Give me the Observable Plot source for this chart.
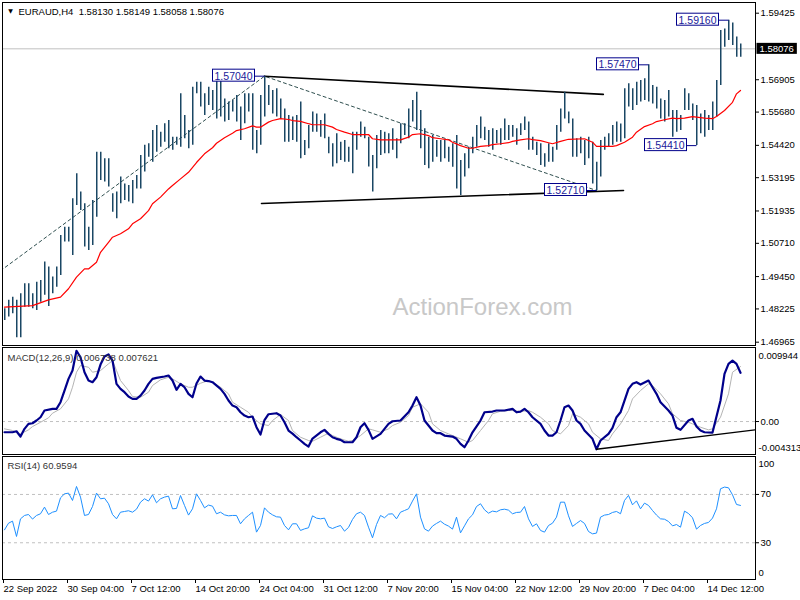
<!DOCTYPE html>
<html><head><meta charset="utf-8">
<script src="https://cdn.jsdelivr.net/npm/d3@7"></script>
<script src="https://cdn.jsdelivr.net/npm/@observablehq/plot@0.6"></script>
<style>
body{margin:0;background:#fff;}
#chart{position:relative;width:800px;height:600px;overflow:hidden;background:#fff;}
</style></head><body><div id="chart"></div>
<script>
// ---- price bars (8h aggregation of H4 bars) ----
const highs = [1.4823,1.4855,1.4867,1.4855,1.4880,1.4918,1.4918,1.4880,1.4924,1.4930,
1.5000,1.4981,1.4943,1.4981,1.5101,1.5132,1.5132,1.5240,1.5334,1.5265,
1.5221,1.5132,1.5233,1.5416,1.5416,1.5391,1.5391,1.5259,1.5265,1.5322,
1.5296,1.5290,1.5309,1.5328,1.5404,1.5442,1.5448,1.5498,1.5517,1.5492,
1.5524,1.5536,1.5473,1.5473,1.5637,1.5555,1.5498,1.5662,1.5681,1.5681,
1.5637,1.5662,1.5650,1.5700,1.5688,1.5618,1.5606,1.5612,1.5631,1.5587,
1.5637,1.5637,1.5637,1.5498,1.5631,1.5704,1.5669,1.5650,1.5656,1.5618,
1.5580,1.5555,1.5549,1.5555,1.5606,1.5460,1.5517,1.5568,1.5561,1.5536,
1.5561,1.5473,1.5448,1.5486,1.5454,1.5460,1.5435,1.5492,1.5492,1.5530,
1.5511,1.5473,1.5404,1.5479,1.5498,1.5492,1.5486,1.5505,1.5467,1.5524,
1.5524,1.5580,1.5612,1.5643,1.5574,1.5505,1.5473,1.5479,1.5460,1.5460,
1.5460,1.5435,1.5448,1.5479,1.5385,1.5410,1.5435,1.5473,1.5517,1.5549,
1.5511,1.5498,1.5505,1.5498,1.5505,1.5542,1.5517,1.5517,1.5505,1.5524,
1.5549,1.5530,1.5473,1.5454,1.5448,1.5410,1.5448,1.5435,1.5517,1.5580,
1.5643,1.5568,1.5542,1.5467,1.5473,1.5460,1.5473,1.5454,1.5378,1.5460,
1.5473,1.5486,1.5517,1.5530,1.5523,1.5656,1.5675,1.5656,1.5681,1.5688,
1.5694,1.5747,1.5669,1.5662,1.5618,1.5612,1.5650,1.5574,1.5574,1.5555,
1.5656,1.5637,1.5599,1.5593,1.5561,1.5574,1.5555,1.5606,1.5688,1.5877,
1.5883,1.5916,1.5905,1.5852,1.5826];
const lows = [1.4779,1.4792,1.4804,1.4713,1.4713,1.4829,1.4829,1.4823,1.4817,1.4848,
1.4874,1.4832,1.4880,1.4905,1.4949,1.5076,1.5076,1.5025,1.5214,1.5195,
1.5057,1.5044,1.5063,1.5170,1.5309,1.5303,1.5284,1.5189,1.5164,1.5221,
1.5233,1.5227,1.5221,1.5277,1.5277,1.5341,1.5397,1.5378,1.5416,1.5435,
1.5454,1.5429,1.5423,1.5442,1.5435,1.5467,1.5429,1.5442,1.5637,1.5587,
1.5555,1.5593,1.5574,1.5542,1.5549,1.5530,1.5536,1.5568,1.5530,1.5460,
1.5524,1.5568,1.5423,1.5410,1.5442,1.5549,1.5593,1.5561,1.5549,1.5542,
1.5454,1.5454,1.5460,1.5454,1.5391,1.5404,1.5429,1.5492,1.5492,1.5473,
1.5467,1.5410,1.5360,1.5372,1.5385,1.5378,1.5378,1.5334,1.5423,1.5473,
1.5467,1.5360,1.5265,1.5353,1.5404,1.5410,1.5410,1.5423,1.5391,1.5448,
1.5479,1.5467,1.5530,1.5498,1.5429,1.5366,1.5353,1.5378,1.5397,1.5378,
1.5391,1.5378,1.5359,1.5277,1.5252,1.5322,1.5353,1.5410,1.5435,1.5467,
1.5460,1.5435,1.5423,1.5448,1.5442,1.5460,1.5460,1.5473,1.5442,1.5479,
1.5498,1.5423,1.5423,1.5404,1.5366,1.5359,1.5378,1.5378,1.5423,1.5492,
1.5542,1.5524,1.5397,1.5397,1.5410,1.5366,1.5391,1.5296,1.5271,1.5322,
1.5423,1.5435,1.5442,1.5454,1.5454,1.5467,1.5587,1.5574,1.5593,1.5606,
1.5612,1.5606,1.5599,1.5580,1.5542,1.5530,1.5549,1.5473,1.5492,1.5498,
1.5574,1.5574,1.5536,1.5441,1.5486,1.5473,1.5498,1.5498,1.5549,1.5669,
1.5814,1.5839,1.5820,1.5776,1.5776];

// moving average (red)
const maIdx = [0,7,11,14,16,18,20,21,23,24,26,27,29,31,32,34,36,37,39,41,42,44,46,48,50,52,53,55,57,58,60,62,63,64,66,67,69,71,72,74,76,77,80,82,83,85,87,91,92,94,99,101,102,104,106,107,109,111,112,114,116,117,119,121,122,124,126,127,129,131,132,134,136,137,139,141,145,147,148,150,152,153,155,157,158,160,162,163,165,167,168,170,172,173,175,177,178,180,182,183,184];
const maVal = [1.4829,1.4835,1.4857,1.4867,1.4899,1.4943,1.4974,1.4974,1.4999,1.5037,1.5075,1.5094,1.5107,1.5126,1.5145,1.5164,1.5195,1.5221,1.5246,1.5277,1.5290,1.5315,1.5340,1.5377,1.5410,1.5433,1.5450,1.5471,1.5488,1.5498,1.5505,1.5516,1.5511,1.5511,1.5530,1.5536,1.5543,1.5540,1.5536,1.5533,1.5524,1.5520,1.5520,1.5511,1.5502,1.5492,1.5483,1.5483,1.5467,1.5463,1.5463,1.5473,1.5483,1.5486,1.5479,1.5471,1.5467,1.5463,1.5454,1.5441,1.5431,1.5431,1.5438,1.5441,1.5445,1.5448,1.5452,1.5457,1.5463,1.5467,1.5464,1.5460,1.5452,1.5448,1.5457,1.5465,1.5467,1.5454,1.5438,1.5438,1.5438,1.5441,1.5454,1.5473,1.5492,1.5513,1.5524,1.5532,1.5539,1.5545,1.5543,1.5545,1.5551,1.5549,1.5545,1.5543,1.5551,1.5574,1.5605,1.5637,1.5650];

// drawn lines on price panel
const dashIdx = [-1, 65, 148];
const dashVal = [1.4967, 1.5704, 1.5271];
const upperIdx = [65, 149.7];
const upperVal = [1.5704, 1.5635];
const lowerIdx = [64.25, 154.75];
const lowerVal = [1.5222, 1.5271];

// marked highs / lows
const peakIdx = [65, 181, 161, 173, 148];
const peakVal = [1.5704, 1.5916, 1.5747, 1.5441, 1.5271];

const lastPrice = 1.58076;
const priceTicks = [1.59425, 1.56905, 1.5568, 1.5442, 1.53195, 1.51935, 1.5071, 1.4945, 1.48225, 1.46965];
const titleText = "EURAUD,H4\u00a0\u00a01.58130 1.58149 1.58058 1.58076";
const watermark = "ActionForex.com";

// MACD
const macdIdx = [0,2,3,4,5,6,7,8,9,10,12,13,14,15,16,17,18,19,20,21,22,23,24,25,26,27,28,29,30,31,32,33,34,35,36,37,38,40,41,42,43,44,45,46,47,48,49,50,51,52,54,55,56,57,58,59,60,61,62,63,64,65,66,68,69,70,71,72,73,74,75,76,77,79,80,81,82,83,84,85,87,88,89,90,91,92,94,95,96,97,99,101,102,103,104,105,107,108,109,110,112,113,114,115,116,117,119,120,122,123,125,127,128,129,130,131,132,134,135,136,137,138,139,140,141,142,143,144,145,147,148,149,151,152,153,154,156,157,158,159,161,162,163,164,166,167,168,169,171,172,173,174,175,177,179,180,181,182,183,184];
const macdVal = [-0.00147,-0.00147,-0.00133,-0.00206,-0.00100,-0.00032,-0.00023,0.00014,0.00059,0.00151,
0.00174,0.00174,0.00265,0.00425,0.00585,0.00699,0.0097,0.00881,0.00676,0.00562,
0.00539,0.00607,0.00781,0.00891,0.0092,0.00836,0.00517,0.00448,0.00402,0.00343,
0.00311,0.00311,0.00356,0.00425,0.00517,0.00585,0.00599,0.00617,0.00631,0.00562,
0.00435,0.00517,0.0047,0.0038,0.00333,0.00521,0.00617,0.00562,0.00555,0.00539,
0.00448,0.0038,0.00288,0.00219,0.00196,0.00127,0.00082,0.00059,0.00069,-0.00078,
-0.00178,0.0002,0.001,0.00114,0.00082,-0.0001,-0.00123,-0.00165,-0.00215,-0.0026,
-0.00306,-0.00343,-0.00233,-0.00147,-0.00114,-0.00169,-0.00215,-0.00237,-0.00251,-0.00284,
-0.00284,-0.00215,-0.00078,-0.00023,-0.00114,-0.00237,-0.00169,-0.001,-0.00032,0.00004,
0.00014,0.00127,0.00219,0.00333,0.00219,0.00014,-0.00123,-0.0016,-0.0016,-0.00192,
-0.00206,-0.00237,-0.00306,-0.00352,-0.0026,-0.00147,0.00014,0.00127,0.00137,0.00151,
0.00151,0.00174,0.00127,0.00137,0.00174,0.00127,0.00059,-0.00032,-0.00123,-0.00192,
-0.00192,-0.00147,0.00014,0.00196,0.00219,0.00151,0.00014,-0.00032,-0.00123,-0.00237,
-0.0038,-0.0026,-0.00169,-0.00086,0.00059,0.00127,0.00448,0.00517,0.00539,0.00507,
0.00562,0.0047,0.0038,0.00265,0.00151,0.00082,-0.00086,-0.00114,0.00014,0.00037,
-0.00069,-0.00123,-0.00147,-0.00151,0.00288,0.00654,0.00791,0.00836,0.00791,0.00668];
const sigIdx = [0,2,4,6,7,9,11,12,14,16,17,18,19,21,22,24,26,27,28,29,31,32,34,36,37,39,41,42,44,46,47,49,51,52,54,56,57,59,61,62,64,66,67,69,71,72,74,76,77,79,81,82,84,86,87,89,91,92,94,96,97,99,101,102,104,106,107,109,111,112,114,116,117,119,121,122,124,126,127,129,131,132,134,136,137,139,141,142,144,146,147,149,151,152,154,156,157,159,161,162,164,166,167,169,171,172,174,176,177,179,181,182,184];
const sigVal = [-0.001,-0.00123,-0.00169,-0.00114,-0.00069,-0.0001,0.00051,0.00114,0.00174,0.00311,
0.0047,0.00676,0.00768,0.00744,0.00676,0.00699,0.00791,0.00836,0.00699,0.00562,
0.00425,0.00343,0.00333,0.00402,0.00494,0.00572,0.00607,0.00585,0.00517,0.0047,
0.0047,0.00525,0.00562,0.00539,0.0047,0.0038,0.00265,0.00196,0.00127,0.00059,
-0.00032,-0.00055,0.00014,0.00096,0.00014,-0.00123,-0.00215,-0.0026,-0.0027,-0.00215,
-0.0016,-0.00192,-0.00237,-0.0027,-0.0026,-0.00192,-0.001,-0.00114,-0.00147,-0.001,
-0.00055,-0.0001,0.00082,0.00196,0.00243,0.00127,-0.00032,-0.00123,-0.00169,-0.00192,
-0.00237,-0.00284,-0.0026,-0.00123,0.00014,0.00106,0.00141,0.00151,0.00151,0.00137,
0.00151,0.00127,0.00059,-0.00032,-0.00123,-0.00169,-0.00055,0.00106,0.00059,-0.00032,
-0.00147,-0.00237,-0.0026,-0.00169,-0.00032,0.00151,0.00311,0.00425,0.00517,0.00494,
0.0038,0.00243,0.00106,0.00014,-0.0001,-0.00032,-0.00078,-0.00114,-0.001,0.00059,
0.0038,0.00676,0.00754];
const macdTrendIdx = [148, 187.75];
const macdTrendVal = [-0.0038, -0.00114];
const macdMax = 0.009944, macdMin = -0.004313;
const macdTitle = "MACD(12,26,9) 0.006738 0.007621";

// RSI(14), one value per bar
const rsiVal = [40.7,46.2,47.9,35.2,49.8,52.6,53.4,49.6,52.6,54.0,
59.5,53.4,55.3,56.2,67.2,70.5,71.1,65.0,76.6,67.8,
52.6,53.4,60.0,71.1,66.4,66.9,62.3,53.4,49.8,55.3,
55.9,56.5,55.3,57.8,63.6,66.4,64.5,69.7,63.1,66.4,
67.8,68.6,58.1,58.4,69.1,60.9,52.9,58.1,70.5,65.0,
58.9,61.2,60.3,54.0,55.3,53.1,52.3,52.6,52.6,45.7,
49.8,52.6,55.3,38.8,44.3,58.9,55.3,53.1,51.5,51.2,
44.3,40.7,45.7,45.7,40.2,41.5,42.4,52.3,50.4,49.8,
50.4,43.2,41.8,43.2,44.3,39.6,42.7,49.3,54.0,55.3,
52.6,42.9,34.1,45.1,52.6,50.7,53.7,54.0,49.8,55.3,
56.7,58.1,64.5,70.5,51.2,41.5,39.6,43.8,46.0,47.9,
45.4,43.8,41.3,51.2,38.2,44.0,49.8,53.1,60.0,62.3,
57.3,54.5,56.2,55.6,57.3,57.8,57.0,54.0,55.1,55.3,
60.0,49.8,43.5,45.7,40.2,38.8,44.3,46.2,51.2,63.6,
63.6,52.3,43.5,46.0,48.4,46.0,39.3,37.4,38.0,51.2,
52.9,53.4,55.1,55.9,54.0,65.0,69.2,61.4,64.7,58.1,
62.8,60.9,56.7,52.9,49.8,49.5,47.6,44.0,45.1,42.9,
56.2,54.2,50.7,41.3,44.3,46.0,46.8,50.4,58.1,74.7,
76.1,75.5,69.7,61.7,60.9];
const rsiLevels = [70, 30];
const rsiTitle = "RSI(14) 60.9594";

// time axis
const xTickPos = [-0.25,15.75,31.75,47.75,63.75,79.75,95.75,111.75,127.75,143.75,159.75,175.75];
const xTickLabels = ["22 Sep 2022","30 Sep 04:00","7 Oct 12:00","14 Oct 20:00","24 Oct 04:00","31 Oct 12:00","7 Nov 20:00","15 Nov 04:00","22 Nov 12:00","29 Nov 20:00","7 Dec 04:00","14 Dec 12:00"];

// ---- build tables ----
const bars = highs.map((h, i) => ({i, high: h, low: lows[i]}));
const ma = maIdx.map((i, k) => ({i, v: maVal[k]}));
const dash = dashIdx.map((i, k) => ({i, v: dashVal[k]}));
const upper = upperIdx.map((i, k) => ({i, v: upperVal[k]}));
const lower = lowerIdx.map((i, k) => ({i, v: lowerVal[k]}));
const peaks = peakIdx.map((i, k) => ({i, v: peakVal[k]}));
const macd = macdIdx.map((i, k) => ({i, v: macdVal[k]}));
const sig = sigIdx.map((i, k) => ({i, v: sigVal[k]}));
const macdTrend = macdTrendIdx.map((i, k) => ({i, v: macdTrendVal[k]}));
const rsi = rsiVal.map((v, i) => ({i, v}));
const xLabelMap = new Map(xTickPos.map((p, k) => [p, xTickLabels[k]]));

const FONT = "'Liberation Sans', Arial, sans-serif";
const BAR = "#1a4764";
const xScale = {domain: [-1, 187.75], range: [0, 755]};
const baseStyle = {fontFamily: FONT, fontSize: "9.5px", background: "transparent", overflow: "visible", color: "#000"};

const mainPlot = Plot.plot({
  width: 800, height: 347,
  marginLeft: 2, marginRight: 45, marginTop: 2, marginBottom: 2,
  style: baseStyle,
  x: {...xScale, axis: null},
  y: {domain: [1.46965, 1.59425], range: [341.7, 12.7]},
  marks: [
    Plot.text([watermark], {text: d => d, frameAnchor: "bottom", dx: 103.5, dy: -38, fontSize: 24, fill: "#c8c8c8", lineAnchor: "middle", textAnchor: "middle"}),
    Plot.ruleY([lastPrice], {stroke: "#c0c0c0"}),
    Plot.line(dash, {x: "i", y: "v", stroke: "#2f4f4f", strokeWidth: 1, strokeDasharray: "3,3", clip: true}),
    Plot.line(upper, {x: "i", y: "v", stroke: "#000", strokeWidth: 1.6}),
    Plot.line(lower, {x: "i", y: "v", stroke: "#000", strokeWidth: 1.6}),
    Plot.ruleX(bars, {x: "i", y1: "low", y2: "high", stroke: BAR, strokeWidth: 1.5, dx: 0.25}),
    Plot.line(ma, {x: "i", y: "v", stroke: "#ff0000", strokeWidth: 1.2}),
    Plot.frame({stroke: "#000"}),
    Plot.axisY({anchor: "right", ticks: priceTicks, tickFormat: d => d.toFixed(5), tickSize: 3, tickPadding: 2, label: null}),
    Plot.text([lastPrice], {y: d => d, text: d => d.toFixed(5), frameAnchor: "right", textAnchor: "start", lineAnchor: "middle", dx: 4, fill: "#fff"}),
    Plot.text(peaks, {x: "i", y: "v", text: d => d.v.toFixed(5), textAnchor: "end", lineAnchor: "middle", dx: -12, fill: "#1a1a9a", fontSize: 10.5}),
    Plot.text(["\u25BC"], {text: d => d, frameAnchor: "top-left", dx: 8, dy: 8.5, fontSize: 6, fontFamily: "DejaVu Sans", textAnchor: "middle", lineAnchor: "middle"}),
    Plot.text([titleText], {text: d => d, frameAnchor: "top-left", dx: 16, dy: 9, textAnchor: "start", lineAnchor: "middle"})
  ]
});

const macdPlot = Plot.plot({
  width: 800, height: 108,
  marginLeft: 2, marginRight: 45, marginTop: 0, marginBottom: 1,
  style: baseStyle,
  x: {...xScale, axis: null},
  y: {domain: [macdMin, macdMax], range: [105.5, 1.5]},
  marks: [
    Plot.ruleY([0], {stroke: "#c0c0c0", strokeDasharray: "3,3"}),
    Plot.line(sig, {x: "i", y: "v", stroke: "#b4b4b4", strokeWidth: 1}),
    Plot.line(macd, {x: "i", y: "v", stroke: "#00008b", strokeWidth: 2.2}),
    Plot.line(macdTrend, {x: "i", y: "v", stroke: "#000", strokeWidth: 1.3, clip: true}),
    Plot.frame({stroke: "#000"}),
    Plot.axisY({anchor: "right", ticks: [0], tickFormat: () => "0.00", tickSize: 3, tickPadding: 2, label: null}),
    Plot.text([macdMax], {text: d => d.toFixed(6), frameAnchor: "top-right", dx: 3, dy: 8, textAnchor: "start", lineAnchor: "middle"}),
    Plot.text([macdMin], {text: d => d.toFixed(6), frameAnchor: "bottom-right", dx: 3, dy: -6.5, textAnchor: "start", lineAnchor: "middle"}),
    Plot.text([macdTitle], {text: d => d, frameAnchor: "top-left", dx: 5, dy: 10.3, textAnchor: "start", lineAnchor: "middle", fill: "#333"})
  ]
});

const rsiPlot = Plot.plot({
  width: 800, height: 145,
  marginLeft: 2, marginRight: 45, marginTop: 1, marginBottom: 21,
  style: baseStyle,
  x: {...xScale},
  y: {domain: [0, 100], range: [123.5, 2.7]},
  marks: [
    Plot.ruleY(rsiLevels, {stroke: "#c0c0c0", strokeDasharray: "3,3"}),
    Plot.line(rsi, {x: "i", y: "v", stroke: "#1e90ff", strokeWidth: 1}),
    Plot.frame({stroke: "#000"}),
    Plot.axisY({anchor: "right", ticks: rsiLevels, tickFormat: d => String(d), tickSize: 3, tickPadding: 2, label: null}),
    Plot.text([100], {text: d => String(d), frameAnchor: "top-right", dx: 3, dy: 7.3, textAnchor: "start", lineAnchor: "middle"}),
    Plot.text([0], {text: d => String(d), frameAnchor: "bottom-right", dx: 3, dy: -6.3, textAnchor: "start", lineAnchor: "middle"}),
    Plot.text([rsiTitle], {text: d => d, frameAnchor: "top-left", dx: 5, dy: 9.3, textAnchor: "start", lineAnchor: "middle", fill: "#333"}),
    Plot.axisX({anchor: "bottom", ticks: xTickPos, tickFormat: d => xLabelMap.get(d), tickSize: 4, tickPadding: 2, textAnchor: "start", label: null})
  ]
});

const chart = document.getElementById("chart");
[[mainPlot, 0], [macdPlot, 347], [rsiPlot, 455]].forEach(([svg, top]) => {
  svg.style.position = "absolute";
  svg.style.left = "0px";
  svg.style.top = top + "px";
  chart.appendChild(svg);
});

// label boxes, connectors and the current-price box (positions come from Plot's scales)
const NS = "http://www.w3.org/2000/svg";
const peakSet = new Set(peakVal.map(v => v.toFixed(5)));
const lastStr = lastPrice.toFixed(5);
for (const t of Array.from(mainPlot.querySelectorAll("text"))) {
  const s = t.textContent;
  const isPeak = peakSet.has(s), isLast = s === lastStr;
  if (!isPeak && !isLast) continue;
  const b = t.getBBox();
  const tr = t.getAttribute("transform");
  const ty = +(t.getAttribute("y") || 0);
  const tx = +(t.getAttribute("x") || 0);
  const r = document.createElementNS(NS, "rect");
  if (tr) r.setAttribute("transform", tr);
  if (isLast) {
    r.setAttribute("x", b.x - 3); r.setAttribute("y", b.y);
    r.setAttribute("width", b.width + 6); r.setAttribute("height", b.height);
    r.setAttribute("fill", "#000");
  } else {
    const x0 = Math.round(b.x - 2), x1 = Math.round(b.x + b.width + 2);
    r.setAttribute("x", x0); r.setAttribute("y", Math.round(b.y));
    r.setAttribute("width", x1 - x0); r.setAttribute("height", 12);
    r.setAttribute("fill", "#fff"); r.setAttribute("stroke", "#00008b"); r.setAttribute("stroke-width", 1);
    const l = document.createElementNS(NS, "line");
    if (tr) l.setAttribute("transform", tr);
    l.setAttribute("x1", x1); l.setAttribute("x2", tx + 12);
    l.setAttribute("y1", Math.round(ty)); l.setAttribute("y2", Math.round(ty));
    l.setAttribute("stroke", "#00008b"); l.setAttribute("stroke-width", 1);
    t.parentNode.insertBefore(l, t);
  }
  t.parentNode.insertBefore(r, t);
}
</script></body></html>
